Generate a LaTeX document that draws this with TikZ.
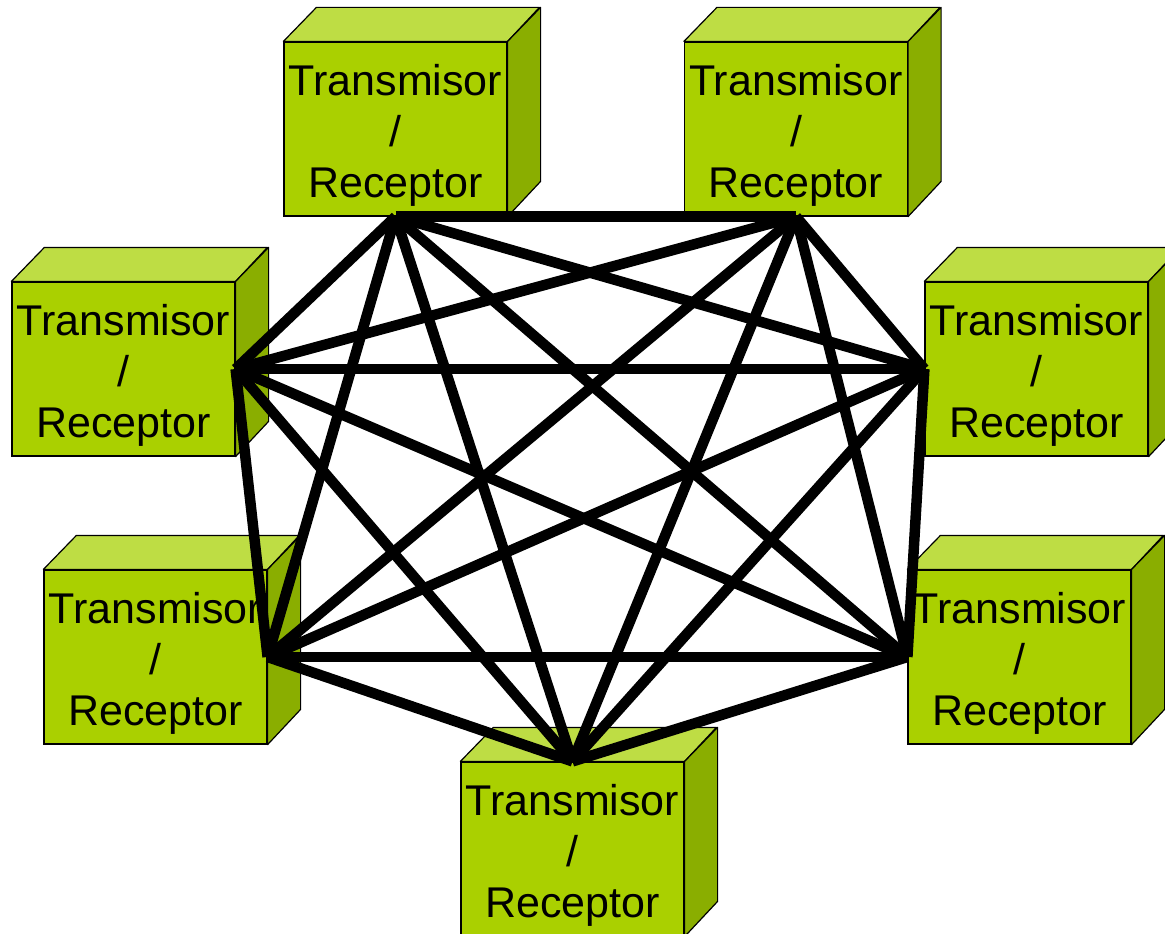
\documentclass[tikz,border=0pt]{standalone}
\usepackage{fontspec}
\setmainfont{Liberation Sans}
\definecolor{cubefront}{RGB}{170,208,0}
\definecolor{cubetop}{RGB}{190,221,68}
\definecolor{cubeside}{RGB}{138,174,0}
\begin{document}
\begin{tikzpicture}[x=1pt,y=-1pt,
  cube/.style={draw=black, line width=1.2pt, fill=cubefront,
    minimum width=223pt, minimum height=174pt, inner sep=0pt,
    text width=223pt, align=center, font=\fontsize{43}{51}\selectfont,
    execute at begin node={\rule{0pt}{43pt}}},
  cubeface/.style={draw=black, line width=1.2pt, line join=round},
  link/.style={line width=10.5pt}]
\clip (0,0) rectangle (1165,934);

% the seven transceivers (front faces)
\node[cube] (a) at (395.5,129) {Transmisor\\/\\Receptor};
\node[cube] (b) at (796,129)   {Transmisor\\/\\Receptor};
\node[cube] (c) at (123.5,369) {Transmisor\\/\\Receptor};
\node[cube] (d) at (1036.5,369){Transmisor\\/\\Receptor};
\node[cube] (e) at (155.5,657) {Transmisor\\/\\Receptor};
\node[cube] (f) at (1019.5,657){Transmisor\\/\\Receptor};
\node[cube] (g) at (572.5,849) {Transmisor\\/\\Receptor};

% top and side faces of each box
\foreach \n in {a,b,c,d,e,f,g}{
  \filldraw[cubeface, fill=cubetop] (\n.north west) -- ++(33,-34) -- ++(223,0)
    -- (\n.north east) -- cycle;
  \filldraw[cubeface, fill=cubeside] (\n.north east) -- ++(33,-34) -- ++(0,174)
    -- (\n.south east) -- cycle;
}

% attachment points of the links
\coordinate (pa) at (a.south);
\coordinate (pb) at (b.south);
\coordinate (pc) at (c.east);
\coordinate (pd) at (d.west);
\coordinate (pe) at (e.east);
\coordinate (pf) at (f.west);
\coordinate (pg) at (g.north);

% full mesh: every transceiver linked to every other
\foreach \u/\v in {pa/pb,pa/pc,pa/pd,pa/pe,pa/pf,pa/pg,
                   pb/pc,pb/pd,pb/pe,pb/pf,pb/pg,
                   pc/pd,pc/pe,pc/pf,pc/pg,
                   pd/pe,pd/pf,pd/pg,
                   pe/pf,pe/pg,
                   pf/pg}
  \draw[link] (\u) -- (\v);
\end{tikzpicture}
\end{document}
